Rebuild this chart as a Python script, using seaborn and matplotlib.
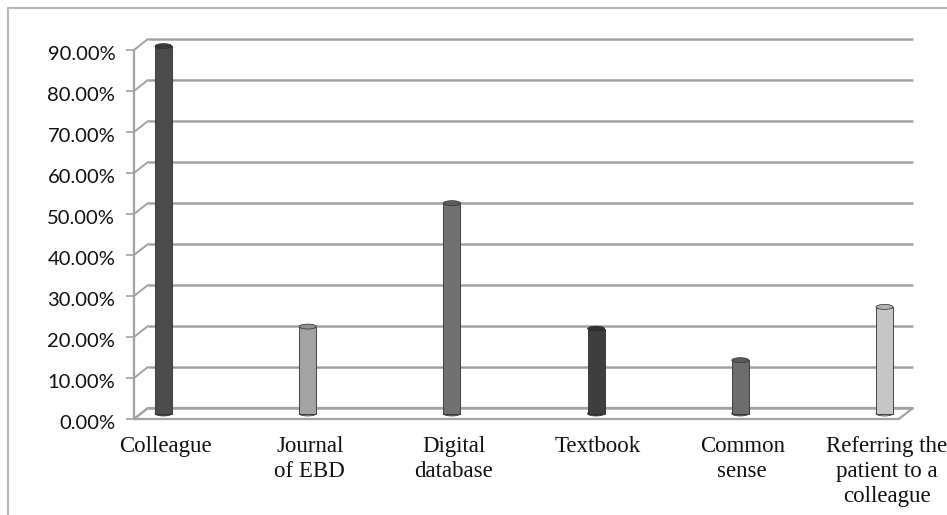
import matplotlib
matplotlib.use("Agg")
import matplotlib.pyplot as plt
from matplotlib.lines import Line2D
from matplotlib.patches import Polygon, Ellipse
from matplotlib.transforms import ScaledTranslation
import seaborn as sns

# Sources consulted
categories = ["Colleague", "Journal\nof EBD", "Digital\ndatabase", "Textbook",
              "Common\nsense", "Referring the\npatient to a\ncolleague"]
values = [0.896, 0.212, 0.513, 0.207, 0.130, 0.260]
bar_colors = ["#4b4b4b", "#a3a3a3", "#717171", "#3e3e3e", "#6c6c6c", "#c6c6c6"]
cap_colors = ["#3a3a3a", "#8e8e8e", "#5e5e5e", "#303030", "#5a5a5a", "#b0b0b0"]
y_ticks = [0.0, 0.1, 0.2, 0.3, 0.4, 0.5, 0.6, 0.7, 0.8, 0.9]
y_tick_labels = [f"{t * 100:.2f}%" for t in y_ticks]

W, H, DPI = 947, 515, 100
sns.set_theme(style="white")
fig = plt.figure(figsize=(W / DPI, H / DPI), dpi=DPI)

# front plane of the 3-D box, in pixels
left_px, right_px, base_px, top_px = 134, 899, 419, 50
ax = fig.add_axes([left_px / W, (H - base_px) / H,
                   (right_px - left_px) / W, (base_px - top_px) / H])

slot_px = 144.2          # spacing between categories
first_px = 156.5         # first category on the front plane
xmin = -(first_px - left_px) / slot_px
xmax = xmin + (right_px - left_px) / slot_px
ymin, ymax = 0.0, 0.9
px_per_y = (base_px - top_px) / (ymax - ymin)

depth_dx, depth_dy = 14, 11      # back wall offset (px)
mid_dx, mid_dy = 7, 5.5          # bars sit half-way into the box
bar_w = 17 / slot_px


def px_off(dx, dy):
    return ScaledTranslation(dx / DPI, dy / DPI, fig.dpi_scale_trans)


grid_col = "#a2a2a2"
ddx = depth_dx / slot_px
ddy = depth_dy / px_per_y

# floor of the box
floor = Polygon([(xmin, 0), (xmax, 0), (xmax + ddx, ddy), (xmin + ddx, ddy)],
                closed=True, facecolor="white", edgecolor=grid_col, lw=1.6,
                clip_on=False, zorder=1)
ax.add_patch(floor)

# back-wall gridlines and the slanted connectors to the front ticks
for t in y_ticks:
    ax.plot([xmin + ddx, xmax + ddx], [t + ddy, t + ddy], color=grid_col, lw=1.8,
            clip_on=False, zorder=1, solid_capstyle="butt")
    ax.plot([xmin, xmin + ddx], [t, t + ddy], color=grid_col, lw=1.4,
            clip_on=False, zorder=1)

# cylinders
sns.barplot(x=list(range(len(values))), y=values, hue=list(range(len(values))),
            palette=bar_colors, width=bar_w, legend=False, ax=ax,
            saturation=1, zorder=3, edgecolor="#2e2e2e", linewidth=0.6)
bar_off = ax.transData + px_off(mid_dx, mid_dy)
for p in ax.patches:
    if p is floor:
        continue
    p.set_transform(bar_off)
    p.set_clip_on(False)

# rounded ends of each cylinder
cap_h = 5 / px_per_y
for i, v in enumerate(values):
    for y, fc in ((v, cap_colors[i]), (0, bar_colors[i])):
        ax.add_patch(Ellipse((i, y), bar_w, cap_h, facecolor=fc,
                             edgecolor="#2e2e2e", lw=0.5, transform=bar_off,
                             clip_on=False, zorder=4 if y else 2))

ax.set_xlim(xmin, xmax)
ax.set_ylim(ymin, ymax)
ax.set_xticks([])
ax.set_xlabel("")
ax.set_ylabel("")
ax.set_yticks(y_ticks)
ax.set_yticklabels(y_tick_labels, fontsize=14.5, family="Lato", color="#101010")
ax.tick_params(axis="y", which="both", left=True, length=5.5, width=1.2,
               color=grid_col, pad=8)
for lab in ax.get_yticklabels():
    lab.set_transform(lab.get_transform() + px_off(0, -3))

for name in ["top", "right", "bottom"]:
    ax.spines[name].set_visible(False)
ax.spines["left"].set_color(grid_col)
ax.spines["left"].set_linewidth(1.6)
ax.patch.set_alpha(0)

# category labels under each cylinder
for i, name in enumerate(categories):
    ax.text(i, 0, name, transform=ax.get_xaxis_transform() + px_off(mid_dx + 2, -17),
            ha="center", va="top", multialignment="center", family="Liberation Serif",
            fontsize=16.5, color="#111111", linespacing=1.25)

# outer frame (left and top edges)
fx, fy = 8 / W, 1 - 8 / H
fig.add_artist(Line2D([fx, fx], [0, fy], transform=fig.transFigure, color="#b8b8b8", lw=1.5))
fig.add_artist(Line2D([fx, 1], [fy, fy], transform=fig.transFigure, color="#b8b8b8", lw=1.5))

fig.savefig("out.png", dpi=DPI)
